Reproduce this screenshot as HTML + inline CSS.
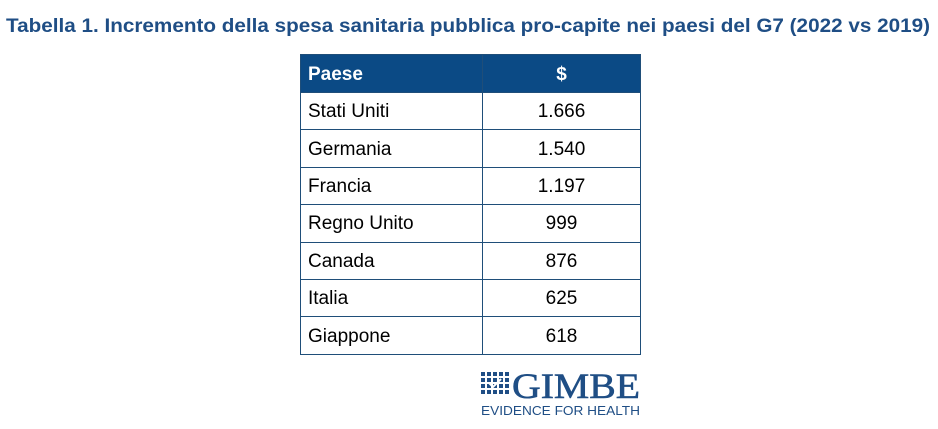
<!DOCTYPE html>
<html><head><style>
body{margin:0;width:938px;height:429px;background:#fff;position:relative;overflow:hidden;font-family:"Liberation Sans",sans-serif}
table{position:absolute;left:300px;top:54px;border-collapse:collapse;width:341px}
td{border:1px solid #1f4e79;height:34.4px;padding:2px 0 0 0;font-size:19px;color:#000}
td.l{width:174px;padding-left:7px}
td.r{text-align:center}
tr.h td{background:#0b4a85;color:#fff;font-weight:bold;height:35px}
tr.h td.r{border-left:1px solid #fff}
</style></head><body>
<svg width="938" height="429" style="position:absolute;left:0;top:0">
<text x="6" y="32" font-family="Liberation Sans" font-weight="bold" font-size="19" fill="#1f4e85" textLength="924" lengthAdjust="spacingAndGlyphs">Tabella 1. Incremento della spesa sanitaria pubblica pro-capite nei paesi del G7 (2022 vs 2019)</text>
<g fill="#1f4e85">
<g id="r"><rect x="481" y="372" width="4" height="4"/><rect x="487" y="372" width="4" height="4"/><rect x="493" y="372" width="4" height="4"/><rect x="499" y="372" width="4" height="4"/><rect x="505" y="372" width="4" height="4"/></g>
<use href="#r" y="6"/><use href="#r" y="12"/><use href="#r" y="18"/>
</g>
<path d="M489 383 l4 4 l8 -8" stroke="#fff" stroke-width="2" fill="none"/>
<text x="512" y="398" font-family="Liberation Serif" font-size="36" fill="#1f4e85" stroke="#1f4e85" stroke-width="0.6" textLength="128" lengthAdjust="spacingAndGlyphs">GIMBE</text>
<text x="481" y="415" font-family="Liberation Sans" font-size="13" fill="#1f4e85" textLength="159" lengthAdjust="spacingAndGlyphs">EVIDENCE FOR HEALTH</text>
</svg>
<table>
<tr class="h"><td class="l">Paese</td><td class="r">$</td></tr>
<tr><td class="l">Stati Uniti</td><td class="r">1.666</td></tr>
<tr><td class="l">Germania</td><td class="r">1.540</td></tr>
<tr><td class="l">Francia</td><td class="r">1.197</td></tr>
<tr><td class="l">Regno Unito</td><td class="r">999</td></tr>
<tr><td class="l">Canada</td><td class="r">876</td></tr>
<tr><td class="l">Italia</td><td class="r">625</td></tr>
<tr><td class="l">Giappone</td><td class="r">618</td></tr>
</table>
</body></html>
